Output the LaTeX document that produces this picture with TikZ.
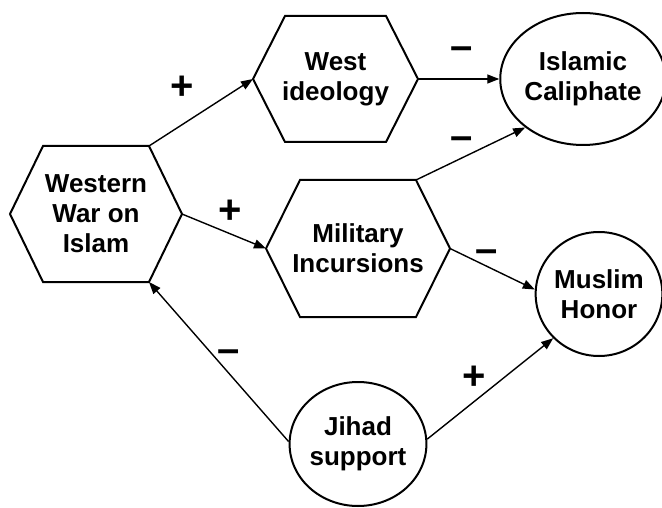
\documentclass[tikz,border=0pt]{standalone}
\usepackage{fontspec}
\setmainfont{Liberation Sans}
\usetikzlibrary{arrows.meta,shapes.geometric}
\newcommand{\hexnode}[7]{%
  % name, cx, cy, halfw, halfh, inset, text
  \coordinate (#1-l) at (#2-#4,#3);
  \coordinate (#1-r) at (#2+#4,#3);
  \coordinate (#1-tl) at (#2-#4+#6,#3-#5);
  \coordinate (#1-tr) at (#2+#4-#6,#3-#5);
  \coordinate (#1-bl) at (#2-#4+#6,#3+#5);
  \coordinate (#1-br) at (#2+#4-#6,#3+#5);
  \draw[shapeline] (#1-l) -- (#1-tl) -- (#1-tr) -- (#1-r) -- (#1-br) -- (#1-bl) -- cycle;
  \node[lbl] (#1) at (#2,#3) {#7};
}
\begin{document}
\begin{tikzpicture}[x=1pt,y=-1pt,
  shapeline/.style={line width=2pt,line join=miter},
  lbl/.style={font=\fontsize{26}{30}\selectfont\bfseries,align=center,inner sep=0pt},
  circ/.style={ellipse,draw,line width=2pt,inner sep=0pt,font=\fontsize{26}{30}\selectfont\bfseries,align=center},
  conn/.style={line width=1.4pt,-{Triangle[length=12pt,width=9pt]}},
  sign/.style={font=\fontsize{40}{40}\selectfont\bfseries,inner sep=0pt}]
\useasboundingbox (0,0) rectangle (662,508);
\hexnode{wwi}{96}{214}{86}{68}{33}{Western\\War on\\Islam}
\hexnode{wid}{335.5}{79}{82.5}{63}{32}{West\\ideology}
\hexnode{mil}{358}{248.5}{92}{68.5}{34}{Military\\Incursions}
\node[circ,minimum width=144pt,minimum height=132pt] (cal) at (583,79) {Islamic\\Caliphate};
\node[circ,minimum width=124pt,minimum height=124pt] (hon) at (599,294) {Muslim\\Honor};
\node[circ,minimum width=134pt,minimum height=124pt] (jih) at (358,444) {Jihad\\support};
\draw[conn] (wwi-tr) -- (wid-l);
\draw[conn] (wwi-r) -- (mil-l);
\draw[conn] (wid-r) -- (cal.180);
\draw[conn] (mil-tr) -- (cal.220);
\draw[conn] (mil-r) -- (hon.176);
\draw[conn] (jih.178) -- (wwi-br);
\draw[conn] (jih.4) -- (hon.224);
\node[sign] (s1) at (182,88) {+};
\node[sign] (s2) at (230,212) {+};
\node[sign] (s3) at (462,53) {–};
\node[sign] (s4) at (462,143) {–};
\node[sign] (s5) at (487,256) {–};
\node[sign] (s6) at (229,356) {–};
\node[sign] (s7) at (474,378) {+};
\end{tikzpicture}
\end{document}
